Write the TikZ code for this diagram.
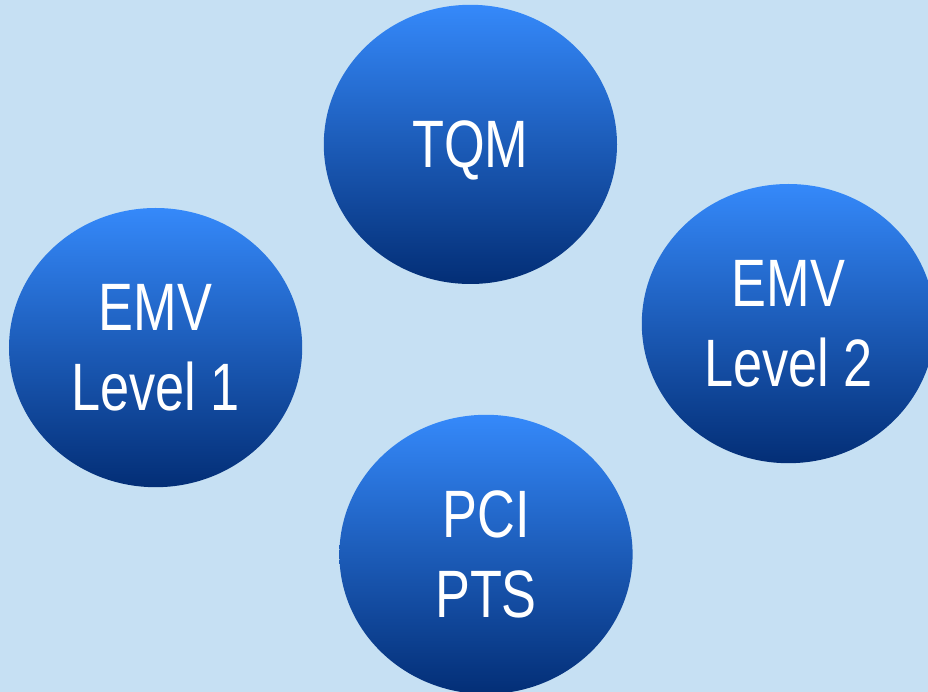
\documentclass[tikz,border=0pt]{standalone}
\usepackage{fontspec}
\newfontfamily\bubblefont[FakeStretch=0.78]{Liberation Sans}
\usetikzlibrary{shapes.geometric,shadings}
\definecolor{bgblue}{HTML}{C6E0F3}
\definecolor{bubbletop}{HTML}{3589FA}
\definecolor{bubblemid}{HTML}{0A4FC4}
\definecolor{bubblebot}{HTML}{032E76}
\tikzset{
  bubble/.style={ellipse, inner sep=0pt, minimum width=7.33cm, minimum height=6.98cm,
    top color=bubbletop, middle color=bubblemid, bottom color=bubblebot,
    text=white, align=center, font=\bubblefont\fontsize{47.7}{56.9}\selectfont}
}
\begin{document}
\begin{tikzpicture}
        \def\W{23.2}
        \def\H{17.3}
        % 背景
        \fill[bgblue] (0,0) rectangle (\W,-\H);
        \clip (0,0) rectangle (\W,-\H);
        % 四个椭圆
        \node[bubble, text depth=0pt] (tqm) at (11.76,-3.61) {TQM};
        \node[bubble] (emvone) at (3.89,-8.69) {EMV\\Level 1};
        \node[bubble] (emvtwo) at (19.71,-8.09) {EMV\\Level 2};
        \node[bubble] (pcipts) at (12.15,-13.86) {PCI\\PTS};
\end{tikzpicture}
\end{document}
